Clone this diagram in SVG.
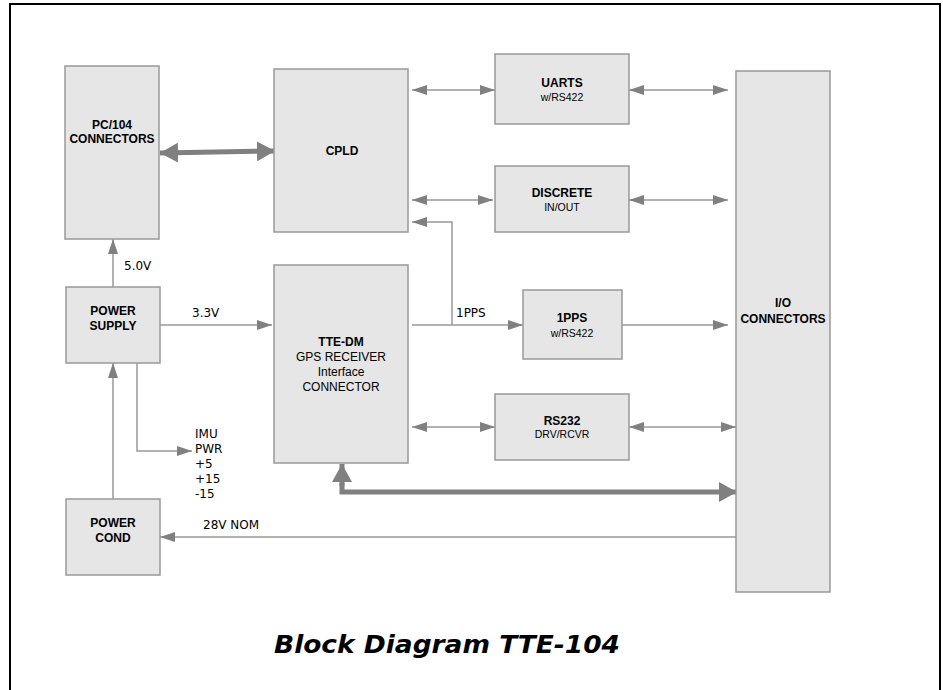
<svg xmlns="http://www.w3.org/2000/svg" width="943" height="690" viewBox="0 0 943 690">
<defs>
<style>
.box{fill:#e6e6e6;stroke:#999;stroke-width:1.5}
.b{font-family:"Liberation Sans",Arial,sans-serif;font-weight:bold;font-size:12px;fill:#000;text-anchor:middle}
.r{font-family:"Liberation Sans",Arial,sans-serif;font-size:12px;fill:#000;text-anchor:middle}
.s{font-family:"Liberation Sans",Arial,sans-serif;font-size:10.5px;fill:#000;text-anchor:middle}
.l{font-family:"DejaVu Sans",Verdana,sans-serif;font-size:12px;fill:#000}
.thin{fill:none;stroke:#999;stroke-width:1.5}
.thick{fill:none;stroke:#808080;stroke-width:5}
</style>
<marker id="ah" markerUnits="userSpaceOnUse" markerWidth="15" markerHeight="10" refX="15" refY="5" orient="auto-start-reverse" viewBox="0 0 15 10">
<path d="M0,0 L15,5 L0,10 z" fill="#808080"/>
</marker>
<marker id="ahb" markerUnits="userSpaceOnUse" markerWidth="18" markerHeight="20" refX="18" refY="10" orient="auto-start-reverse" viewBox="0 0 18 20">
<path d="M0,0 L18,10 L0,20 z" fill="#808080"/>
</marker>
</defs>
<rect x="0" y="0" width="943" height="690" fill="#fff"/>
<rect x="10" y="4" width="930" height="700" fill="none" stroke="#000" stroke-width="2"/>

<g id="connectors">
<line class="thick" x1="160" y1="153" x2="275" y2="151" marker-start="url(#ahb)" marker-end="url(#ahb)"/>
<line class="thin" x1="412" y1="90" x2="495" y2="90" marker-start="url(#ah)" marker-end="url(#ah)"/>
<line class="thin" x1="629" y1="90" x2="728" y2="90" marker-start="url(#ah)" marker-end="url(#ah)"/>
<line class="thin" x1="412" y1="200" x2="493" y2="200" marker-start="url(#ah)" marker-end="url(#ah)"/>
<line class="thin" x1="629" y1="200" x2="728" y2="200" marker-start="url(#ah)" marker-end="url(#ah)"/>
<polyline class="thin" points="452,325 452,222 412,222" marker-end="url(#ah)"/>
<line class="thin" x1="412" y1="325" x2="523" y2="325" marker-end="url(#ah)"/>
<line class="thin" x1="622" y1="325" x2="728" y2="325" marker-end="url(#ah)"/>
<line class="thin" x1="412" y1="427" x2="495" y2="427" marker-start="url(#ah)" marker-end="url(#ah)"/>
<line class="thin" x1="629" y1="427" x2="736" y2="427" marker-start="url(#ah)" marker-end="url(#ah)"/>
<line class="thin" x1="113" y1="287" x2="113" y2="239" marker-end="url(#ah)"/>
<line class="thin" x1="160" y1="325" x2="272" y2="325" marker-end="url(#ah)"/>
<line class="thin" x1="113" y1="499" x2="113" y2="363" marker-end="url(#ah)"/>
<polyline class="thin" points="137,363 137,451 192,451" marker-end="url(#ah)"/>
<polyline class="thick" points="342,483 342,492 737,492" marker-end="url(#ahb)"/>
<line class="thick" x1="342" y1="486" x2="342" y2="464" marker-end="url(#ahb)"/>
<line class="thin" x1="736" y1="537" x2="160" y2="537" marker-end="url(#ah)"/>
<text class="l" x="124" y="270">5.0V</text>
<text class="l" x="192" y="317">3.3V</text>
<text class="l" x="456" y="317">1PPS</text>
<text class="l" x="203" y="529">28V NOM</text>
<text class="l" x="195" y="438">IMU</text>
<text class="l" x="195" y="453">PWR</text>
<text class="l" x="195" y="468">+5</text>
<text class="l" x="195" y="483">+15</text>
<text class="l" x="195" y="498">-15</text>
</g>

<g id="pc104">
<rect class="box" x="65" y="66" width="94" height="173"/>
<text class="b" x="112" y="129">PC/104</text>
<text class="b" x="112" y="143">CONNECTORS</text>
</g>
<g id="cpld">
<rect class="box" x="274" y="69" width="134" height="163"/>
<text class="b" x="342" y="155">CPLD</text>
</g>
<g id="uarts">
<rect class="box" x="495" y="54" width="134" height="70"/>
<text class="b" x="562" y="87">UARTS</text>
<text class="s" x="562" y="100.5">w/RS422</text>
</g>
<g id="discrete">
<rect class="box" x="495" y="166" width="134" height="66"/>
<text class="b" x="562" y="197">DISCRETE</text>
<text class="s" x="562" y="210.5">IN/OUT</text>
</g>
<g id="pps">
<rect class="box" x="523" y="290" width="99" height="69"/>
<text class="b" x="572" y="322">1PPS</text>
<text class="s" x="572" y="336.5">w/RS422</text>
</g>
<g id="rs232">
<rect class="box" x="495" y="394" width="134" height="66"/>
<text class="b" x="562" y="425">RS232</text>
<text class="s" x="562" y="437.5">DRV/RCVR</text>
</g>
<g id="ttedm">
<rect class="box" x="274" y="265" width="134" height="198"/>
<text class="b" x="341" y="346">TTE-DM</text>
<text class="r" x="341" y="361">GPS RECEIVER</text>
<text class="r" x="341" y="376">Interface</text>
<text class="r" x="341" y="391">CONNECTOR</text>
</g>
<g id="powersupply">
<rect class="box" x="66" y="287" width="94" height="76"/>
<text class="b" x="113" y="315">POWER</text>
<text class="b" x="113" y="330">SUPPLY</text>
</g>
<g id="powercond">
<rect class="box" x="66" y="499" width="94" height="76"/>
<text class="b" x="113" y="527">POWER</text>
<text class="b" x="113" y="542">COND</text>
</g>
<g id="io">
<rect class="box" x="736" y="71" width="94" height="521"/>
<text class="b" x="783" y="307">I/O</text>
<text class="b" x="783" y="323">CONNECTORS</text>
</g>
<text x="274" y="653" font-family="DejaVu Sans,Verdana,sans-serif" font-weight="bold" font-style="italic" font-size="24" textLength="346" lengthAdjust="spacingAndGlyphs">Block Diagram TTE-104</text>
</svg>
